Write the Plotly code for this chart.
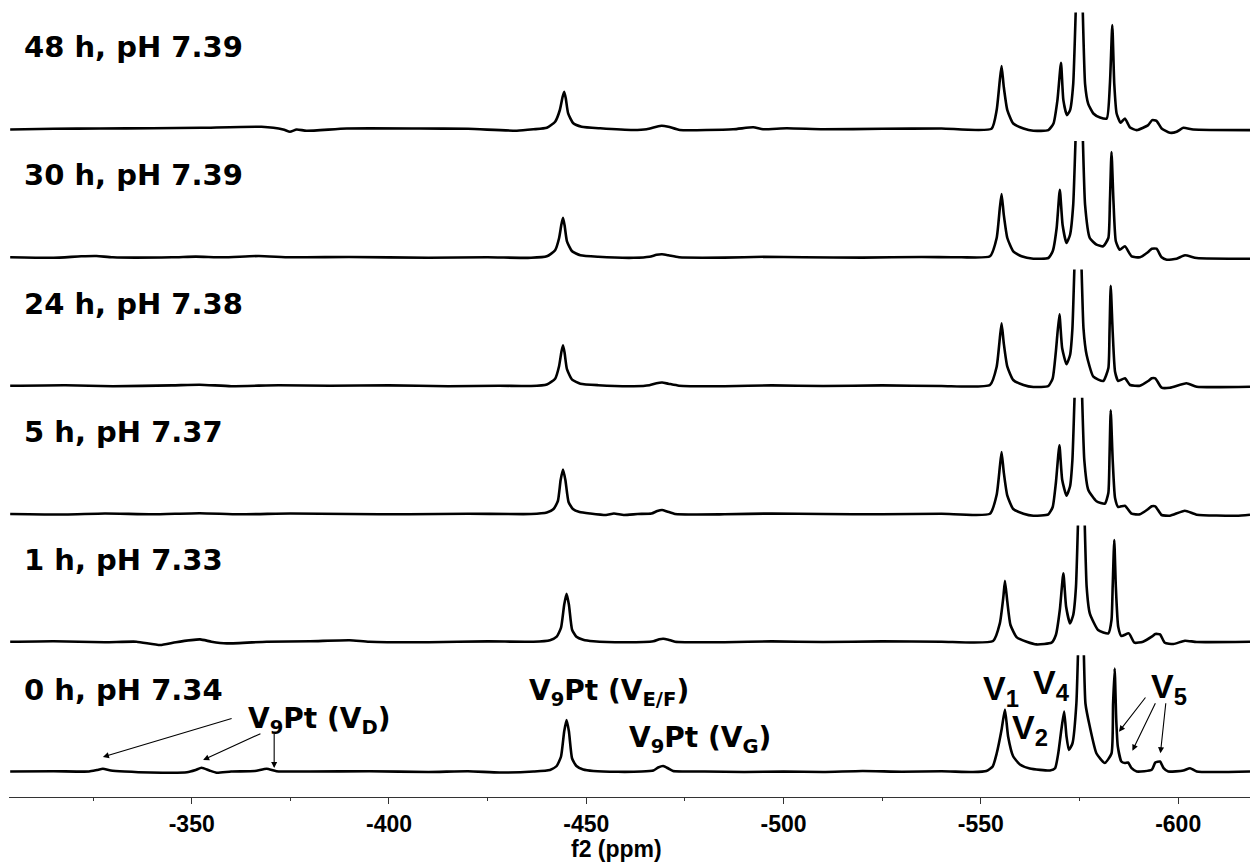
import plotly.graph_objects as go

# ---------------------------------------------------------------------------
# 51V NMR spectra of V9Pt over time (ppm, intensity in arbitrary units).
# The strongest line near -575 ppm runs off the top of every panel.
# ---------------------------------------------------------------------------
panel_labels = ["0 h, pH 7.34", "1 h, pH 7.33", "5 h, pH 7.37",
                "24 h, pH 7.38", "30 h, pH 7.39", "48 h, pH 7.39"]

spec_0h = [
    (-304, 0), (-315, 0.3), (-324, 0), (-326, 1.5), (-327.5, 2.7), (-329.5, 1), (-333, 0),
    (-339.5, -1), (-348.8, -0.8), (-351, 1.5), (-352.5, 3.7), (-354.5, 1), (-356.3, -1.2),
    (-360, 0), (-366, 0.5), (-369, 2.7), (-371.5, 0.3), (-380, 0), (-395, 0.2), (-410, -0.5),
    (-420, 0.3), (-428, -1), (-436.6, 0), (-440.8, 1.5), (-442.5, 5.5), (-443.6, 15),
    (-444.4, 40), (-445.0, 51.5), (-445.6, 40), (-446.4, 13), (-447.5, 5.5), (-449.2, 2),
    (-451.8, 0.5), (-458, -0.3), (-464, 0), (-467.0, 1), (-468.2, 4), (-469.5, 5.5),
    (-470.8, 3), (-472.0, 0.5), (-480, 0), (-490, -0.5), (-500, 0), (-510, -0.5), (-520, 0.5),
    (-530, -0.3), (-540, 0.3), (-548, -0.5), (-551.4, 0.5), (-553.0, 5), (-554.0, 18),
    (-555.25, 42), (-556.1, 62), (-556.9, 35), (-558.2, 15), (-559.9, 7), (-562.4, 3),
    (-567.5, 1), (-568.8, 3.3), (-569.6, 18), (-570.4, 42), (-571.1, 60), (-571.7, 35),
    (-572.3, 21.5), (-573.2, 28), (-574.2, 68), (-575.45, 230), (-576.5, 68), (-577.6, 45),
    (-579.3, 18), (-581.4, 8.5), (-583.1, 18), (-583.5, 68), (-583.9, 103), (-584.3, 52),
    (-584.7, 25), (-585.6, 10), (-586.5, 8.5), (-587.3, 9), (-588.2, 3.3), (-589.5, 0),
    (-593.3, 1.7), (-594.2, 9), (-595.4, 10), (-596.3, 3.3), (-597.5, 0), (-601.3, 1),
    (-603.0, 3.3), (-604.7, 0), (-618.2, 0),
]

spec_1h = [
    (-304, 0), (-315, 0.5), (-328, -0.5), (-336, 0), (-342.0, -3.3), (-346, -0.5),
    (-352.1, 2.3), (-355, 0), (-358.9, -1.7), (-369.0, 0), (-380, 0.5), (-390, 1.5),
    (-395, 0), (-410, -0.5), (-425, 0.3), (-436.6, 0), (-440.8, 1.5), (-442.5, 5),
    (-443.6, 14), (-444.4, 37), (-445.0, 48), (-445.6, 37), (-446.4, 12), (-447.5, 5),
    (-449.2, 2), (-451.8, 0.5), (-460, -0.5), (-467.0, 0.5), (-468.5, 2.5), (-469.5, 3),
    (-470.8, 2), (-472.5, 0), (-485, -0.5), (-497, 0.3), (-510, -0.3), (-525, 0.3), (-540, 0),
    (-553.1, 0.7), (-554.8, 18.3), (-555.7, 45), (-556.1, 61), (-556.7, 40), (-557.5, 16.7),
    (-559.1, 4.3), (-561.6, 0), (-564.1, -2.7), (-567.9, -1), (-569.0, 6.7), (-570.0, 31.7),
    (-570.9, 68.3), (-571.6, 35), (-572.6, 18.3), (-573.4, 26.7), (-574.1, 55), (-575.5, 230),
    (-576.8, 55), (-577.6, 28.3), (-579.7, 11.7), (-582.3, 8.3), (-583.1, 21.7), (-583.4, 55),
    (-583.8, 101.7), (-584.2, 55), (-584.8, 15), (-585.6, 5.7), (-587.5, 8.3), (-588.9, -1),
    (-591.1, 0), (-593.3, 5), (-594.2, 7.7), (-595.4, 7.3), (-596.6, -1), (-598.8, -2.3),
    (-601.7, 1), (-604.7, -0.3), (-618.2, 0),
]

spec_5h = [
    (-304, 0), (-318, -0.5), (-328, 0.5), (-340, -0.3), (-352, 0.8), (-362, -0.3), (-375, 0.5),
    (-390, 0), (-405, -0.3), (-420, 0.3), (-436, 0), (-440, 1.5), (-441.7, 5), (-442.8, 13),
    (-443.5, 34), (-444.1, 44.5), (-444.7, 34), (-445.5, 12), (-446.6, 5), (-448.3, 2),
    (-451, 0.5), (-455, -1), (-457, 0.5), (-459.5, -1), (-463, 0), (-466.5, 0.5), (-468, 3),
    (-469.2, 4), (-470.5, 2.5), (-472.5, 0), (-485, -0.3), (-497, 0.5), (-510, 0), (-525, -0.3),
    (-540, 0.3), (-552.3, 0.3), (-554.0, 19.3), (-554.8, 47), (-555.25, 62), (-555.8, 41.7),
    (-556.7, 18.3), (-558.2, 5), (-560.8, 0.3), (-563.3, -1.7), (-567.1, -0.3), (-568.2, 7),
    (-569.0, 31), (-569.9, 68.7), (-570.6, 34.3), (-571.7, 18.3), (-572.6, 27.7), (-573.2, 54.3),
    (-574.75, 230), (-576.2, 54.3), (-577.2, 24.3), (-579.3, 12.7), (-581.4, 10.3), (-582.3, 21),
    (-582.6, 57.7), (-582.9, 103.7), (-583.4, 54.3), (-584.0, 16), (-584.8, 7), (-586.5, 8.3),
    (-588.2, 0.3), (-590.3, -0.3), (-592.4, 5), (-593.3, 7.7), (-594.2, 7.7), (-595.8, -1),
    (-597.9, -1.7), (-601.7, 3.3), (-604.7, -0.7), (-614.8, -1.7), (-618.2, -0.7),
]

spec_24h = [
    (-304, 0), (-318, 0.5), (-330, -0.5), (-345, 0.3), (-352, 1), (-360, -0.5), (-372, 0.5),
    (-385, 0), (-400, 0.3), (-415, -0.5), (-428, 0), (-436, -0.3), (-440, 1.2), (-442.1, 7),
    (-443.1, 19.5), (-443.7, 34), (-444.1, 40.5), (-444.5, 33), (-445.1, 16.5), (-446.4, 6),
    (-448.5, 2), (-453, 0.5), (-462, -0.5), (-466, 0.5), (-467.8, 2.5), (-469.2, 3.2),
    (-470.8, 2), (-473.5, 0), (-485, -0.5), (-497, 0.3), (-510, -0.3), (-525, 0.3), (-540, -0.3),
    (-552.3, 0.7), (-554.0, 19), (-554.8, 47.4), (-555.25, 62.4), (-555.8, 42.4), (-556.7, 19),
    (-558.2, 5.7), (-560.8, 0.7), (-563.3, -1.3), (-567.1, -0.3), (-568.2, 7.4), (-569.0, 34),
    (-569.9, 71.4), (-570.6, 37.4), (-571.7, 21.4), (-572.6, 30.7), (-573.2, 57.4),
    (-574.65, 230), (-576.0, 57.4), (-576.8, 30.7), (-578.5, 9), (-581.0, 4.7), (-582.3, 17.4),
    (-582.6, 54), (-582.9, 100), (-583.4, 54), (-584.0, 14), (-584.8, 4.7), (-586.5, 7.4),
    (-587.8, 0.7), (-590.3, 0), (-592.4, 4.7), (-593.3, 7.4), (-594.2, 7.4), (-595.8, -2),
    (-597.9, -2), (-602.1, 2.4), (-604.7, -1), (-618.2, -1),
]

spec_30h = [
    (-304, 0), (-315, -0.5), (-322, 1), (-325.9, 1.3), (-330, 0), (-345, 0), (-351, 0.7),
    (-358, 0), (-367, 1.3), (-375, 0), (-390, 0.3), (-410, -0.5), (-425, 0), (-436, -0.5),
    (-440, 1), (-442.1, 7), (-443.1, 19), (-443.7, 33), (-444.1, 39.5), (-444.5, 32),
    (-445.1, 16), (-446.4, 6), (-448.5, 2), (-453, 0.5), (-462, -0.5), (-466, 0.5),
    (-467.8, 2.5), (-469.2, 3), (-470.8, 2), (-473.5, 0), (-485, -0.3), (-495, 0.5), (-505, 0),
    (-520, -0.3), (-535, 0.3), (-545, 0), (-552.3, 1), (-554.0, 19.3), (-554.8, 49.3),
    (-555.25, 63.3), (-555.8, 42.6), (-556.7, 19.3), (-558.2, 6), (-560.3, 1), (-563.3, -1.4),
    (-567.1, -0.7), (-568.2, 6), (-569.2, 29.3), (-570.0, 67.6), (-570.7, 32.6), (-571.7, 14.3),
    (-572.6, 22.6), (-573.4, 52.6), (-575.0, 230), (-576.4, 52.6), (-577.6, 19.3),
    (-579.3, 12.6), (-581.0, 11), (-582.3, 19.3), (-582.7, 56), (-583.1, 105.3), (-583.6, 56),
    (-584.2, 16), (-585.2, 7.6), (-586.5, 11), (-588.2, 1), (-590.3, 0), (-592.4, 5.3),
    (-593.3, 8.6), (-594.5, 8.6), (-595.8, 0), (-597.1, -2.4), (-599.6, -1.4), (-601.7, 2),
    (-604.7, -0.7), (-618.2, -1.4),
]

spec_48h = [
    (-304, -0.7), (-315, 0), (-326.8, 0.3), (-340, 0.5), (-352.4, 1), (-367.7, 2),
    (-373.2, -0.7), (-374.9, -3), (-376.6, -0.7), (-379.1, -2), (-389.3, 0.3), (-407.8, 0.3),
    (-420, 0), (-432.4, -1.9), (-436.6, -0.5), (-440.0, 1.1), (-442.1, 7.1), (-443.3, 18.8),
    (-444.0, 32), (-444.4, 37.1), (-444.8, 30.5), (-445.4, 15.5), (-446.7, 5.5), (-448.8, 2.1),
    (-453.5, 0.5), (-461.9, -1.2), (-465.3, -0.5), (-467.8, 2.1), (-469.1, 3.1), (-470.8, 2.1),
    (-473.7, -1.2), (-487.2, -0.5), (-492.3, 1.5), (-494.8, -0.5), (-500.8, 0.5), (-510, -0.5),
    (-525, 0), (-540, 0.3), (-552.7, 0), (-554.0, 18.7), (-554.8, 48.7), (-555.25, 62.7),
    (-555.8, 42), (-556.7, 18.7), (-558.2, 5.3), (-560.8, 0.3), (-563.3, -2), (-567.1, -1.3),
    (-568.4, 5.3), (-569.4, 28.7), (-570.3, 66), (-570.9, 28.7), (-571.8, 13.7), (-572.6, 18.7),
    (-573.4, 45), (-575.0, 230), (-576.4, 45), (-577.2, 25), (-578.5, 15.3), (-580.2, 11.3),
    (-581.9, 10.3), (-582.7, 45), (-583.3, 103.7), (-583.8, 45), (-584.4, 15.3), (-585.4, 6),
    (-586.5, 10.3), (-587.8, 1.3), (-589.5, -1.3), (-592.4, 3.7), (-593.4, 8.7), (-594.5, 8),
    (-595.8, 0.3), (-597.9, -4), (-599.6, -3), (-601.3, 1), (-603.8, -0.7), (-618.2, -1.3),
]

spectra = [spec_0h, spec_1h, spec_5h, spec_24h, spec_30h, spec_48h]

tick_ppm = [-350, -400, -450, -500, -550, -600]
minor_ppm = [-325, -375, -425, -475, -525, -575]

# Arrows in the 0 h panel: (tail ppm, tail height) -> (head ppm, head height)
vd_arrows = [((-360.5, 53.5), (-327.5, 14.5)),
             ((-367.8, 38.5), (-352.9, 11.5)),
             ((-370.9, 39.5), (-370.9, 3.5))]
v5_arrows = [((-592.0, 75.5), (-585.0, 39.8)),
             ((-594.4, 69.8), (-588.4, 20.8)),
             ((-596.9, 69.8), (-595.5, 18.2))]

# ---------------------------------------------------------------------------
# Geometry (pixels) of the stacked panels
# ---------------------------------------------------------------------------
W, H = 1250, 867
ML, MR, MT, MB = 9, 0, 0, 70
PW, PH = W - ML - MR, H - MT - MB
CLIP = 116.3                                   # panel height above each baseline
baseline_px = [771.5, 641.7, 514.0, 385.7, 257.3, 128.8]


def paper(xp, yp):
    return (xp - ML) / PW, (PH - yp) / PH


def bold(s):
    return f"<b>{s}</b>"


LABEL_FONT = dict(family="DejaVu Sans", size=29, color="black")
PEAK_FONT = dict(family="DejaVu Sans", size=28, color="black")
V_FONT = dict(family="Liberation Sans, Arial", size=34, color="black")
AXIS_FONT = dict(family="Liberation Sans, Arial", size=23, color="black")

fig = go.Figure()
layout_axes = {}
for i, (spec, base) in enumerate(zip(spectra, baseline_px)):
    top = base - CLIP
    bottom = PH if i == 0 else baseline_px[i - 1] - CLIP
    name = "y" if i == 0 else f"y{i + 1}"
    key = "yaxis" if i == 0 else f"yaxis{i + 1}"
    layout_axes[key] = dict(domain=[(PH - bottom) / PH, (PH - top) / PH],
                            range=[-(bottom - base), CLIP], visible=False,
                            fixedrange=True)
    fig.add_trace(go.Scatter(
        x=[p[0] for p in spec], y=[p[1] for p in spec], yaxis=name, xaxis="x",
        mode="lines", line=dict(color="black", width=2.6, shape="spline",
                                smoothing=0.5),
        showlegend=False, hoverinfo="skip"))

fig.update_layout(**layout_axes)

annotations = []
for lab, base in zip(panel_labels, baseline_px):
    x, y = paper(22, base - 82)
    annotations.append(dict(text=bold(lab), x=x, y=y, xref="paper", yref="paper",
                            xanchor="left", yanchor="middle", showarrow=False,
                            font=LABEL_FONT))

peak_labels = [
    ("V<sub>9</sub>Pt (V<sub>D</sub>)", 246, 720, PEAK_FONT),
    ("V<sub>9</sub>Pt (V<sub>E/F</sub>)", 527, 692, PEAK_FONT),
    ("V<sub>9</sub>Pt (V<sub>G</sub>)", 627, 739, PEAK_FONT),
    ("V<sub>1</sub>", 981, 690, V_FONT),
    ("V<sub>2</sub>", 1010, 729, V_FONT),
    ("V<sub>4</sub>", 1031, 684, V_FONT),
    ("V<sub>5</sub>", 1149, 688, V_FONT),
]
for txt, xp, yp, f in peak_labels:
    x, y = paper(xp, yp)
    annotations.append(dict(text=bold(txt), x=x, y=y, xref="paper", yref="paper",
                            xanchor="left", yanchor="middle", showarrow=False,
                            font=f))

for (tx, ty), (hx, hy) in vd_arrows + v5_arrows:
    annotations.append(dict(x=hx, y=hy, ax=tx, ay=ty, xref="x", yref="y",
                            axref="x", ayref="y", text="", showarrow=True,
                            arrowhead=2, arrowsize=1.1, arrowwidth=1.1,
                            arrowcolor="black", standoff=0))

x, y = paper(616, 849)
annotations.append(dict(text=bold("f2 (ppm)"), x=x, y=y, xref="paper", yref="paper",
                        xanchor="center", yanchor="middle", showarrow=False,
                        font=AXIS_FONT))

fig.update_layout(
    width=W, height=H,
    margin=dict(l=ML, r=MR, t=MT, b=MB, pad=0),
    paper_bgcolor="white", plot_bgcolor="white",
    annotations=annotations,
    xaxis=dict(range=[-303.7, -618.2], anchor="y", showline=True,
               linecolor="#333333", linewidth=1.3, showgrid=False, zeroline=False,
               tickmode="array", tickvals=tick_ppm,
               ticktext=[bold(str(v)) for v in tick_ppm],
               ticks="outside", ticklen=6, tickwidth=1.3, tickcolor="#333333",
               tickfont=AXIS_FONT,
               minor=dict(tickmode="array", tickvals=minor_ppm, ticks="outside",
                          ticklen=3, tickwidth=1, tickcolor="#333333"),
               fixedrange=True),
)

fig.write_html("out.html")
